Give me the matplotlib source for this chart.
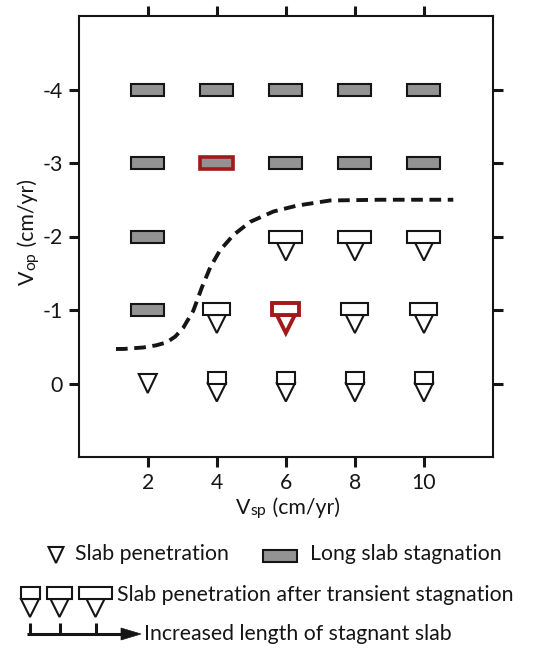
import matplotlib
matplotlib.use("Agg")
import matplotlib.pyplot as plt
from matplotlib.patches import Polygon, Rectangle
from matplotlib.transforms import Affine2D, ScaledTranslation

plt.rcParams['font.family'] = ['Lato', 'DejaVu Sans']

# subducting / overriding plate velocities (cm/yr)
vsp_ticks = [2, 4, 6, 8, 10]
vop_ticks = [0, -1, -2, -3, -4]

# slab penetration, no stagnation
pen_vsp = [2]
pen_vop = [0]

# long slab stagnation
stag_vsp = [2, 4, 6, 8, 10, 2, 4, 6, 8, 10, 2, 2]
stag_vop = [-4, -4, -4, -4, -4, -3, -3, -3, -3, -3, -2, -1]

# penetration after transient stagnation (stagnant length: 1 short, 2 medium, 3 long)
trans_vsp = [4, 6, 8, 10, 4, 6, 8, 10, 6, 8, 10]
trans_vop = [0, 0, 0, 0, -1, -1, -1, -1, -2, -2, -2]
trans_len = [1, 1, 1, 1, 2, 2, 2, 2, 3, 3, 3]

# reference models drawn in red
red_vsp = [4, 6]
red_vop = [-3, -1]

# boundary between stagnation and penetration
bound_vsp = [1.08, 1.3, 1.87, 2.25, 2.55, 2.8, 3.03, 3.32, 3.57, 3.81, 4.09,
             4.48, 4.97, 5.64, 6.32, 7.28, 8.73, 10.85]
bound_vop = [-0.47, -0.47, -0.49, -0.52, -0.56, -0.64, -0.76, -0.99, -1.31, -1.58,
             -1.81, -2.02, -2.20, -2.34, -2.42, -2.49, -2.50, -2.50]

GRAY = '#939393'
RED = '#a3191b'
INK = '#151515'
W, H = 553, 649
FS = 15.3

# glyph geometry in pixels (y pointing down)
REC_W = {1: 18, 2: 27, 3: 33}
REC_TOP = {1: -12, 2: -7, 3: -6}


def tri_glyph(t, top, w=18, h=18, ec=INK, lw=1.5):
    return Polygon([(-w / 2, top), (w / 2, top), (0, top + h)], closed=True,
                   fc='white', ec=ec, lw=lw, transform=t, joinstyle='miter')


def rect_glyph(t, w, top, fc, ec=INK, lw=1.5):
    return Rectangle((-w / 2, top), w, 12, fc=fc, ec=ec, lw=lw, transform=t,
                     joinstyle='miter')


def at_data(ax, x, y):
    return Affine2D().scale(1, -1) + ScaledTranslation(x, y, ax.transData)


def at_pixel(px, py):
    return Affine2D().scale(1, -1).translate(px, H - py)


fig = plt.figure(figsize=(W / 100, H / 100), dpi=100)
ax = fig.add_axes([78.7 / W, 1 - 457 / H, (493 - 78.7) / W, (457 - 16) / H])
ax.set_xlim(0, 12)
ax.set_ylim(1, -5)

red = set(zip(red_vsp, red_vop))

for x, y in zip(stag_vsp, stag_vop):
    hl = (x, y) in red
    ax.add_patch(rect_glyph(at_data(ax, x, y), 33, -6, GRAY,
                            ec=RED if hl else INK, lw=2.6 if hl else 1.5))

for x, y in zip(pen_vsp, pen_vop):
    ax.add_patch(tri_glyph(at_data(ax, x, y), -9.5, h=19))

for x, y, n in zip(trans_vsp, trans_vop, trans_len):
    hl = (x, y) in red
    ec, lw = (RED, 2.8) if hl else (INK, 1.5)
    t = at_data(ax, x, y)
    top = REC_TOP[n]
    ax.add_patch(tri_glyph(t, top + 12, ec=ec, lw=lw))
    ax.add_patch(rect_glyph(t, REC_W[n], top, 'white', ec=ec, lw=lw))

ax.plot(bound_vsp, bound_vop, color=INK, lw=2.8, dashes=(3.0, 1.7),
        dash_capstyle='butt')

ax.set_xticks(vsp_ticks)
ax.set_yticks(vop_ticks)
ax.set_yticklabels([str(v) for v in vop_ticks])
ax.tick_params(direction='out', length=7.2, width=2.2, labelsize=FS,
               top=True, right=True, pad=4, colors=INK)
for s in ax.spines.values():
    s.set_linewidth(1.5)
    s.set_color(INK)

# axis labels with small-letter subscripts, laid out piece by piece
renderer = fig.canvas.get_renderer()


def label_with_sub(cx, base, pieces, vertical=False):
    rot = 90 if vertical else 0
    sizes = []
    for txt, fs, _ in pieces:
        tmp = fig.text(0, 0, txt, fontsize=fs, rotation=rot,
                       rotation_mode='anchor', ha='left', va='baseline')
        bb = tmp.get_window_extent(renderer)
        sizes.append(bb.height if vertical else bb.width)
        tmp.remove()
    pos = cx - sum(sizes) / 2
    for (txt, fs, drop), size in zip(pieces, sizes):
        if vertical:
            xy = ((base + drop) / W, pos / H)
        else:
            xy = (pos / W, (base - drop) / H)
        fig.text(*xy, txt, fontsize=fs, rotation=rot, rotation_mode='anchor',
                 ha='left', va='baseline', color=INK)
        pos += size


label_with_sub(288, H - 514, [('V', FS, 0), ('sp', FS * 0.75, 1.5),
                              (' (cm/yr)', FS, 0)])
label_with_sub(H - 232, 34, [('V', FS, 0), ('op', FS * 0.75, 1.5),
                             (' (cm/yr)', FS, 0)], vertical=True)

# legend
fig.add_artist(tri_glyph(at_pixel(56, 555), -8, w=15, h=16))
fig.text(75 / W, 1 - 554 / H, 'Slab penetration', fontsize=FS, va='center', color=INK)
fig.add_artist(rect_glyph(at_pixel(280, 556), 34, -6, GRAY))
fig.text(310 / W, 1 - 554 / H, 'Long slab stagnation', fontsize=FS, va='center', color=INK)

for cx, w in [(30, 19), (59.5, 25), (95.5, 33)]:
    t = at_pixel(cx, 587)
    fig.add_artist(tri_glyph(t, 12))
    fig.add_artist(rect_glyph(t, w, 0, 'white'))
    fig.add_artist(plt.Line2D([cx, cx], [H - 623, H - 634], transform=None,
                              color=INK, lw=2.2, solid_capstyle='butt'))
fig.text(117 / W, 1 - 595 / H, 'Slab penetration after transient stagnation',
         fontsize=FS, va='center', color=INK)
fig.add_artist(plt.Line2D([27, 123], [H - 634, H - 634], transform=None,
                          color=INK, lw=2.2, solid_capstyle='butt'))
fig.add_artist(Polygon([(121, H - 628), (141, H - 634), (121, H - 640)], closed=True,
                       fc=INK, ec=INK, lw=0.5, transform=None))
fig.text(144 / W, 1 - 634 / H, 'Increased length of stagnant slab',
         fontsize=FS, va='center', color=INK)

fig.savefig('out.png', dpi=100)
